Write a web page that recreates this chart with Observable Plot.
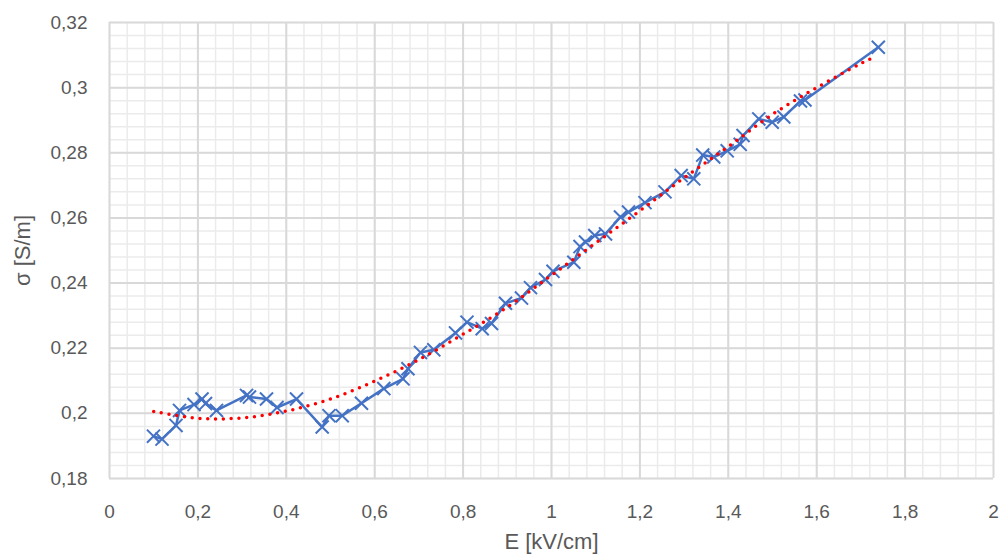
<!DOCTYPE html>
<html>
<head>
<meta charset="utf-8">
<script src="https://cdn.jsdelivr.net/npm/d3@7"></script>
<script src="https://cdn.jsdelivr.net/npm/@observablehq/plot@0.6"></script>
<style>
  html, body { margin: 0; padding: 0; background: #ffffff; }
  #chart { width: 1000px; height: 560px; }
</style>
</head>
<body>
<div id="chart"></div>
<script>
// Measured series: field strength E [kV/cm] and conductivity sigma [S/m]
const E = [0.0995,0.1188,0.1505,0.1584,0.1912,0.2093,0.2172,0.2421,0.3100,0.3167,0.3552,0.3790,0.4231,0.4812,0.4966,0.5265,0.5701,0.6206,0.6640,0.6753,0.7036,0.7337,0.7828,0.8088,0.8432,0.8643,0.8959,0.9321,0.9525,0.9864,1.0034,1.0505,1.0645,1.0769,1.0980,1.1222,1.1561,1.1742,1.2115,1.2568,1.2934,1.3219,1.3421,1.3671,1.3975,1.4269,1.4333,1.4690,1.4993,1.5256,1.5633,1.5735,1.7394];
const sigma = [0.1930,0.1921,0.1963,0.2009,0.2027,0.2044,0.2030,0.2009,0.2055,0.2050,0.2044,0.2018,0.2044,0.1958,0.1993,0.1993,0.2031,0.2076,0.2106,0.2137,0.2187,0.2195,0.2247,0.2280,0.2260,0.2276,0.2338,0.2354,0.2386,0.2411,0.2436,0.2464,0.2512,0.2526,0.2546,0.2551,0.2603,0.2618,0.2647,0.2680,0.2730,0.2720,0.2793,0.2787,0.2806,0.2826,0.2853,0.2904,0.2894,0.2910,0.2959,0.2962,0.3124];

// Trendline values
const trendE = [0.1,0.2,0.3,0.4,0.5,0.6,0.7,0.8,0.9,1.0,1.1,1.2,1.3,1.4,1.5,1.6,1.7,1.73];
const trendSigma = [0.2006,0.1985,0.1986,0.2007,0.2044,0.2099,0.2165,0.2243,0.2326,0.2424,0.2523,0.2622,0.2723,0.2819,0.2918,0.3000,0.3074,0.3094];

// Axis ticks and labels
const xTicks = [0,0.2,0.4,0.6,0.8,1,1.2,1.4,1.6,1.8,2];
const xTickLabels = ["0","0,2","0,4","0,6","0,8","1","1,2","1,4","1,6","1,8","2"];
const yTicks = [0.18,0.2,0.22,0.24,0.26,0.28,0.3,0.32];
const yTickLabels = ["0,18","0,2","0,22","0,24","0,26","0,28","0,3","0,32"];
const xTitle = "E [kV/cm]";
const yTitle = "σ [S/m]";

const series = E.map((e, i) => ({E: e, s: sigma[i]}));
const trend = trendE.map((e, i) => ({E: e, s: trendSigma[i]}));
const xMinor = d3.range(0, 50).map(i => i * 0.04);
const yMinor = d3.range(0, 36).map(i => 0.18 + i * 0.004);

const font = "'Liberation Sans', Arial, sans-serif";

const chart = Plot.plot({
  width: 1000,
  height: 560,
  marginLeft: 109,
  marginRight: 7,
  marginTop: 22,
  marginBottom: 82,
  style: {fontFamily: font, fontSize: "19px", color: "#595959", background: "#ffffff"},
  x: {domain: [0, 2], ticks: xTicks, tickFormat: d => xTickLabels[xTicks.indexOf(d)], tickSize: 0, tickPadding: 26, label: null},
  y: {domain: [0.18, 0.32], ticks: yTicks, tickFormat: d => yTickLabels[yTicks.indexOf(d)], tickSize: 0, tickPadding: 22, label: null},
  marks: [
    Plot.ruleX(xMinor, {stroke: "#ebebeb", strokeWidth: 1.5}),
    Plot.ruleY(yMinor, {stroke: "#ebebeb", strokeWidth: 1.5}),
    Plot.ruleX(xTicks, {stroke: "#d9d9d9", strokeWidth: 2}),
    Plot.ruleY(yTicks, {stroke: "#d9d9d9", strokeWidth: 2}),
    Plot.line(series, {x: "E", y: "s", stroke: "#4472C4", strokeWidth: 2.5}),
    Plot.dot(series, {x: "E", y: "s", symbol: "times", r: 6, stroke: "#4472C4", strokeWidth: 2}),
    Plot.line(trend, {x: "E", y: "s", curve: "catmull-rom", stroke: "#ff0000", strokeWidth: 3.5, strokeDasharray: "0,7.8", strokeLinecap: "round"}),
    Plot.text([xTitle], {text: d => d, frameAnchor: "bottom", dy: 70, fontSize: 22, fill: "#595959"}),
    Plot.text([yTitle], {text: d => d, frameAnchor: "left", textAnchor: "middle", dx: -87, rotate: -90, fontSize: 22, fill: "#595959"})
  ]
});
document.getElementById("chart").appendChild(chart);
</script>
</body>
</html>
